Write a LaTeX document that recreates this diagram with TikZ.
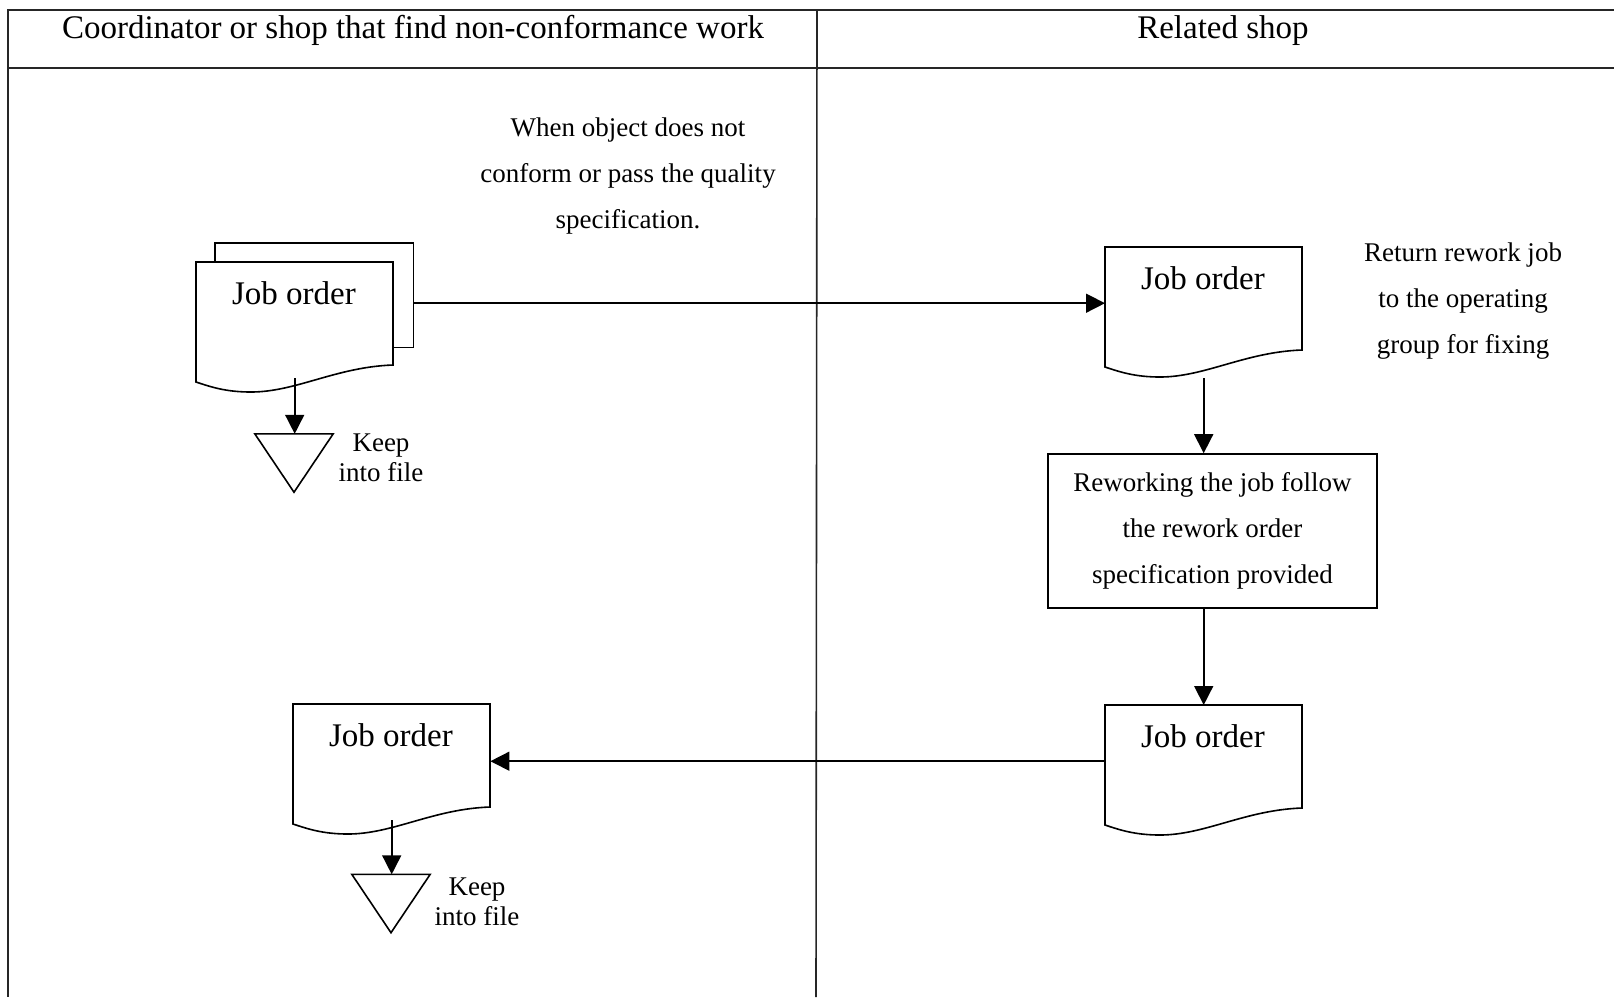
\documentclass[tikz,border=0pt]{standalone}
\usepackage{fontspec}
\setmainfont{Liberation Serif}
\usetikzlibrary{arrows.meta}

% Document symbol: name, left x, top y, caption
\newcommand\jobdoc[4]{%
  \node[docarea] (#1) at (#2,#3) {};
  \filldraw[shapeline, fill=white] (#2,#3+120) -- (#2,#3) -- (#2+197,#3) -- (#2+197,#3+103)
     .. controls (#2+140,#3+105) and (#2+100,#3+130) .. (#2+55,#3+130)
     .. controls (#2+30,#3+130) and (#2+15,#3+125) .. cycle;
  \node[bigtext] (#1-label) at (#2+98,#3+31) {#4};
}

\begin{document}
\begin{tikzpicture}[x=1pt,y=-1pt,
  frame/.style={line width=2pt, black!85},
  shapeline/.style={line width=1.6pt},
  flow/.style={line width=1.6pt, -{Triangle[length=19pt,width=19pt]}},
  docarea/.style={rectangle, inner sep=0pt, minimum width=197pt, minimum height=112pt, anchor=north west},
  bigtext/.style={font=\fontsize{33}{38}\selectfont, inner sep=0pt},
  smalltext/.style={font=\fontsize{27}{46}\selectfont, align=center, inner sep=0pt},
  keeptext/.style={font=\fontsize{27}{30}\selectfont, align=center, inner sep=0pt},
  keepbox/.style={rectangle, inner sep=0pt, minimum width=78pt, minimum height=58pt},
]
\fill[white] (0,0) rectangle (1614,997);
\useasboundingbox (0,0) rectangle (1614,997);

% swimlane frame
\draw[frame] (1614,10) -- (8,10) -- (8,997);
\draw[frame] (8,68) -- (1614,68);
\draw[line width=1.6pt, black!85] (817,10) -- (816,997);

\node[bigtext] (laneA) at (413,30) {Coordinator or shop that find non-conformance work};
\node[bigtext] (laneB) at (1223,31) {Related shop};

% notes
\node[smalltext] (noteA) at (628,176) {When object does not\\conform or pass the quality\\specification.};
\node[smalltext] (noteB) at (1463,301) {Return rework job\\to the operating\\group for fixing};

% job order with copy sheet behind
\node[rectangle, inner sep=0pt, minimum width=198pt, minimum height=104pt, anchor=north west] (d1back) at (215,243) {};
\draw[shapeline] (d1back.north west) rectangle (d1back.south east);
\jobdoc{d1}{196}{262}{Job order}

\jobdoc{d2}{1105}{247}{Job order}
\jobdoc{d3}{293}{704}{Job order}
\jobdoc{d4}{1105}{705}{Job order}

% rework process
\node[rectangle, draw, shapeline, smalltext, minimum width=329pt, minimum height=154pt] (rw) at (1212.5,531)
  {Reworking the job follow\\the rework order\\specification provided};

% file storage
\node[keepbox] (k1) at (294,463) {};
\draw[shapeline] (k1.north west) -- (k1.north east) -- (k1.south) -- cycle;
\node[keeptext] (k1t) at (381,458) {Keep\\into file};

\node[keepbox] (k2) at (391,903.5) {};
\draw[shapeline] (k2.north west) -- (k2.north east) -- (k2.south) -- cycle;
\node[keeptext] (k2t) at (477,902) {Keep\\into file};

% flows
\draw[flow] (d1back.east |- d2.west) -- (d2.west);
\draw[flow, shorten <=19pt] (d2.south) -- (d2.south |- rw.north);
\draw[flow] (rw.south -| d4.north) -- (d4.north);
\draw[flow] (d4.west) -- (d4.west -| d3.east);
\draw[flow, shorten <=4pt] (d1.south) -- (d1.south |- k1.north);
\draw[flow, shorten <=4pt] (d3.south) -- (d3.south |- k2.north);
\end{tikzpicture}
\end{document}
